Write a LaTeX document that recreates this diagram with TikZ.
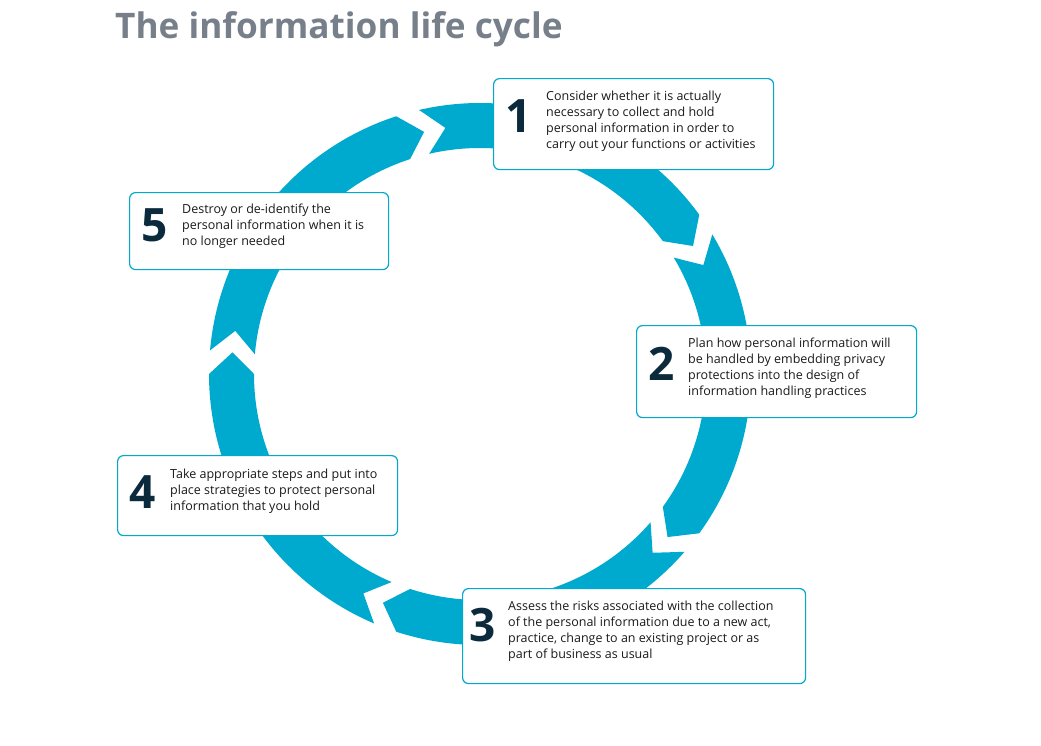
\documentclass[tikz,border=0pt]{standalone}
\usepackage{fontspec}
\setmainfont{Open Sans}
\definecolor{ringblue}{HTML}{00A9CE}
\definecolor{titlegray}{HTML}{77808A}
\definecolor{numnavy}{HTML}{0B2B3D}
\definecolor{bodyink}{HTML}{1A1A1A}
\begin{document}
\begin{tikzpicture}[x=1pt,y=1pt,
  stagebox/.style={draw=ringblue, line width=1.2pt, fill=white, rounded corners=6pt,
    anchor=north west, inner sep=0pt},
  stagenum/.style={font=\fontsize{46}{46}\selectfont\bfseries, text=numnavy, inner sep=0pt},
  stagetext/.style={font=\fontsize{12.5}{16}\selectfont, text=bodyink, align=left,
    anchor=west, inner sep=0pt},
  ringpiece/.style={fill=ringblue, draw=none}]
\useasboundingbox (0,0) rectangle (1041,-745);

% title
\node[anchor=base west, inner sep=0pt, text=titlegray,
  font=\fontsize{35.2}{35.2}\selectfont\bfseries] (title) at (115,-38) {The information life cycle};

% circular ring of five chevron arrows running clockwise
\def\Ro{271}\def\Ri{226}\def\Rm{248.5}
\begin{scope}[shift={(480,-374)}]
  \foreach \a in {180,108,36,-36,-108}{
    \pgfmathsetmacro{\b}{\a-72}
    \fill[ringpiece]
      ({\a-5}:\Ro pt) arc[start angle={\a-5}, end angle=\b, radius=\Ro pt]
      -- ({\b-5}:\Rm pt) -- (\b:\Ri pt)
      arc[start angle=\b, end angle={\a-5}, radius=\Ri pt]
      -- ({\a-10}:\Rm pt) -- cycle;
  }
\end{scope}

% stage 1
\node[stagebox, minimum width=280pt, minimum height=91pt] (box1) at (493,-78) {};
\node[stagenum] (n1) at (519,-116) {1};
\node[stagetext] (t1) at (546,-121) {Consider whether it is actually\\necessary to collect and hold\\personal information in order to\\carry out your functions or activities};

% stage 2
\node[stagebox, minimum width=280pt, minimum height=92pt] (box2) at (636,-325) {};
\node[stagenum] (n2) at (662,-364) {2};
\node[stagetext] (t2) at (688,-368.5) {Plan how personal information will\\be handled by embedding privacy\\protections into the design of\\information handling practices};

% stage 3
\node[stagebox, minimum width=343pt, minimum height=95pt] (box3) at (462,-588) {};
\node[stagenum] (n3) at (483,-625) {3};
\node[stagetext] (t3) at (508,-631.5) {Assess the risks associated with the collection\\of the personal information due to a new act,\\practice, change to an existing project or as\\part of business as usual};

% stage 4
\node[stagebox, minimum width=280pt, minimum height=80pt] (box4) at (117,-455) {};
\node[stagenum] (n4) at (143,-492) {4};
\node[stagetext] (t4) at (170,-491) {Take appropriate steps and put into\\place strategies to protect personal\\information that you hold};

% stage 5
\node[stagebox, minimum width=259pt, minimum height=77pt] (box5) at (129,-192) {};
\node[stagenum] (n5) at (155,-225) {5};
\node[stagetext] (t5) at (182,-226.5) {Destroy or de-identify the\\personal information when it is\\no longer needed};
\end{tikzpicture}
\end{document}
